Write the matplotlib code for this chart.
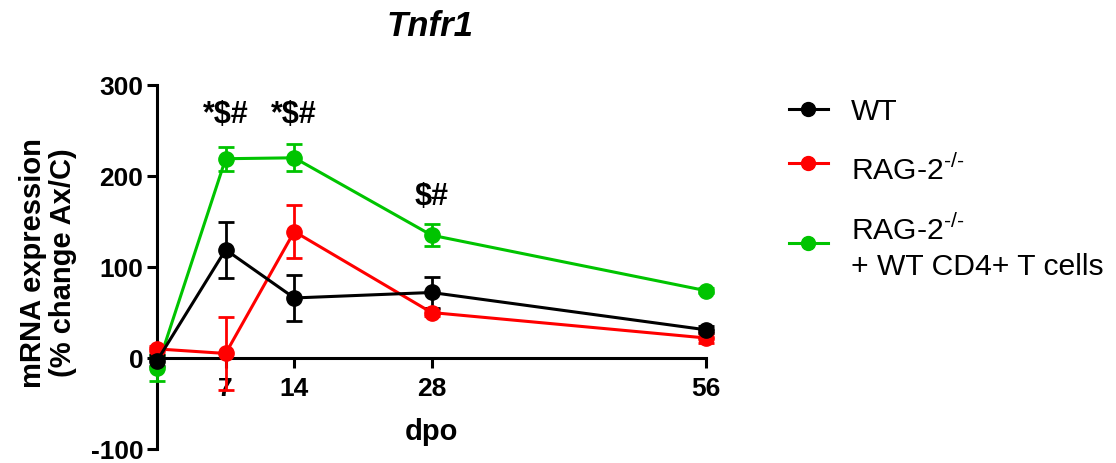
import matplotlib
matplotlib.use("Agg")
import matplotlib.pyplot as plt
from matplotlib.lines import Line2D
import numpy as np

plt.rcParams['font.family'] = ['Liberation Sans', 'DejaVu Sans']
plt.rcParams['mathtext.fontset'] = 'custom'
plt.rcParams['mathtext.rm'] = 'Liberation Sans'
plt.rcParams['axes.unicode_minus'] = False

# dias pos-axotomia
dpo = [0, 7, 14, 28, 56]

wt_media = [-3, 119, 66, 72, 31]
wt_sem = [6, 31, 25, 17, 4]

rag_media = [10, 5, 139, 50, 22]
rag_sem = [3, 40, 29, 4, 5]

cd4_media = [-11, 219, 220, 135, 74]
cd4_sem = [14, 13, 15, 12, 3]

# marcas de significancia
sig_x = [7, 14, 28]
sig_y = [267, 267, 177]
sig_txt = ['*$#', '*$#', '$#']

verde = '#00C400'
rag_txt = 'RAG-2$^{\\text{-/-}}$'

fig = plt.figure(figsize=(11.16, 4.63), dpi=100)
ax = fig.add_axes([0.1407, 0.0302, 0.4919, 0.7862])

series = [
    (cd4_media, cd4_sem, verde),
    (rag_media, rag_sem, 'red'),
    (wt_media, wt_sem, 'black'),
]
for media, sem, cor in series:
    h = ax.errorbar(dpo, media, yerr=sem, color=cor, lw=2.2, marker='o',
                    ms=11, capsize=5.5, capthick=2, elinewidth=2,
                    clip_on=False, zorder=3)
    for art in h.lines[1] + h.lines[2]:
        art.set_clip_on(False)
    h.lines[0].set_clip_on(False)

for x, y, t in zip(sig_x, sig_y, sig_txt):
    ax.text(x, y, t, ha='center', va='center', fontsize=22, fontweight='bold')

ax.set_xlim(0, 56)
ax.set_ylim(-100, 300)
ax.set_xticks([7, 14, 28, 56])
ax.set_yticks([-100, 0, 100, 200, 300])
ax.spines['left'].set_position(('data', 0))
ax.spines['bottom'].set_position(('data', 0))
ax.spines['right'].set_visible(False)
ax.spines['top'].set_visible(False)
for s in ['left', 'bottom']:
    ax.spines[s].set_linewidth(2.2)
ax.tick_params(axis='both', width=2.2, length=7, labelsize=19)
ax.tick_params(axis='x', pad=7)
ax.tick_params(axis='y', pad=3)
for lab in ax.get_xticklabels() + ax.get_yticklabels():
    lab.set_fontweight('bold')

ax.text(0.5, 0.025, 'dpo', transform=ax.transAxes, ha='center',
        va='baseline', fontsize=21, fontweight='bold')
fig.text(48 / 1116, 1 - 263 / 463, 'mRNA expression\n(% change Ax/C)',
         rotation=90, ha='center', va='center', fontsize=21,
         fontweight='bold', multialignment='center', linespacing=1.1)
fig.text(430 / 1116, 1 - 36 / 463, 'Tnfr1', ha='center', va='baseline',
         fontsize=25, fontweight='bold', style='italic')

# legenda desenhada a mao (pixels da figura)
W, H = 1116, 463
leg = [('black', 109, [('WT', 120)]),
       ('red', 163, [(rag_txt, 180)]),
       (verde, 243, [(rag_txt, 240), ('+ WT CD4+ T cells', 275)])]
for cor, ym, textos in leg:
    fig.add_artist(Line2D([789 / W, 828 / W], [1 - ym / H, 1 - ym / H],
                          transform=fig.transFigure, color=cor, lw=2.2))
    fig.add_artist(Line2D([808 / W], [1 - ym / H], transform=fig.transFigure,
                          color=cor, marker='o', ms=10))
    for t, yb in textos:
        fig.text(851 / W, 1 - yb / H, t, ha='left', va='baseline', fontsize=21.7)

fig.savefig('out.png', dpi=100)
